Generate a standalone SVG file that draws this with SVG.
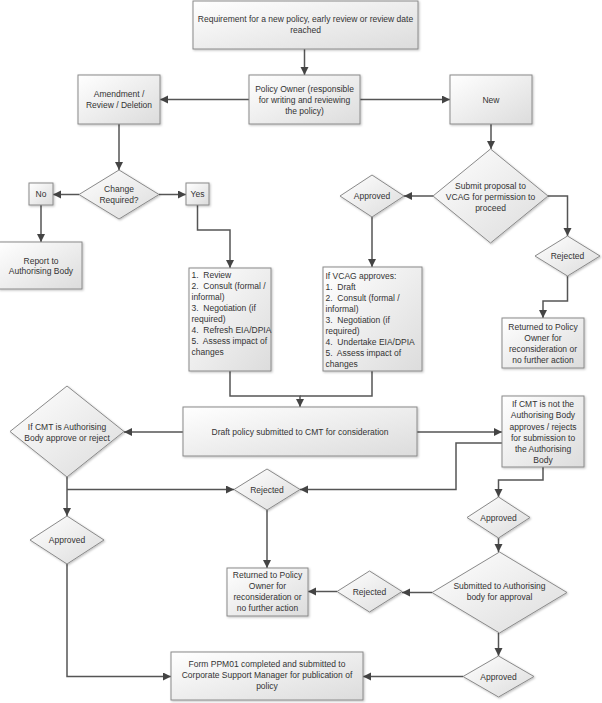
<svg xmlns="http://www.w3.org/2000/svg" width="602" height="703" viewBox="0 0 602 703">
<style>
.s{fill:url(#g);stroke:#8a8a8a;stroke-width:1;filter:url(#sh)}
.t{font-family:"Liberation Sans",Arial,sans-serif;font-size:8.5px;fill:#333;text-anchor:middle}
.l{font-family:"Liberation Sans",Arial,sans-serif;font-size:8.5px;fill:#333;white-space:pre}
.c{fill:none;stroke:#555;stroke-width:1.5}
.a{marker-end:url(#ar)}
</style>
<defs>
<linearGradient id="g" x1="0" y1="0" x2="1" y2="1">
<stop offset="0" stop-color="#ffffff"/>
<stop offset="1" stop-color="#dcdcdc"/>
</linearGradient>
<filter id="sh" x="-10%" y="-10%" width="130%" height="130%">
<feDropShadow dx="1" dy="1" stdDeviation="0.8" flood-color="#000" flood-opacity="0.25"/>
</filter>
<marker id="ar" markerUnits="userSpaceOnUse" markerWidth="9" markerHeight="9" refX="8" refY="4" orient="auto">
<path d="M0,0 L8,4 L0,8 z" fill="#444"/>
</marker>
</defs>

<g id="connectors">
<path class="c a" d="M304.5,49 V75"/>
<path class="c a" d="M249,99.5 H160"/>
<path class="c a" d="M360,99.5 H450"/>
<path class="c a" d="M119,124 V170"/>
<path class="c a" d="M79,194.5 H53"/>
<path class="c a" d="M159,194.5 H186"/>
<path class="c a" d="M41,205 V242"/>
<path class="c a" d="M197.5,205 V230 H230 V268"/>
<path class="c a" d="M491,124 V149"/>
<path class="c a" d="M433,196 H404"/>
<path class="c a" d="M548,196 H567.5 V236"/>
<path class="c a" d="M567.5,276 V301 H543 V318"/>
<path class="c a" d="M372,217 V267"/>
<path class="c a" d="M230,371 V396 H300 V407"/>
<path class="c" d="M372,371 V396 H300"/>
<path class="c a" d="M183,432 H124"/>
<path class="c a" d="M417,432 H502"/>
<path class="c a" d="M502,443 H456 V489.5 H300"/>
<path class="c a" d="M67,477 V516"/>
<path class="c a" d="M67,489.5 H234"/>
<path class="c a" d="M543,467 V480 H498.5 V497"/>
<path class="c a" d="M498.5,538 V552"/>
<path class="c a" d="M432,592.5 H402"/>
<path class="c a" d="M337,591.5 H308"/>
<path class="c a" d="M267,510 V568"/>
<path class="c a" d="M498.5,633 V656"/>
<path class="c a" d="M463,676.5 H363"/>
<path class="c a" d="M67,564 V676.5 H171"/>
</g>

<g id="requirement">
<rect class="s" x="193" y="1" width="225" height="48"/>
<text class="t" x="305.5" y="22">Requirement for a new policy, early review or review date</text>
<text class="t" x="305.5" y="33">reached</text>
</g>
<g id="policy-owner">
<rect class="s" x="249" y="75" width="111" height="49"/>
<text class="t" x="304.5" y="92">Policy Owner (responsible</text>
<text class="t" x="304.5" y="103">for writing and reviewing</text>
<text class="t" x="304.5" y="114">the policy)</text>
</g>
<g id="amendment">
<rect class="s" x="78" y="75" width="82" height="49"/>
<text class="t" x="119" y="97">Amendment /</text>
<text class="t" x="119" y="108">Review / Deletion</text>
</g>
<g id="new">
<rect class="s" x="450" y="75" width="82" height="49"/>
<text class="t" x="491" y="102.5">New</text>
</g>
<g id="change-required">
<polygon class="s" points="119,170 159,194.5 119,219 79,194.5"/>
<text class="t" x="119" y="192">Change</text>
<text class="t" x="119" y="203">Required?</text>
</g>
<g id="no">
<rect class="s" x="29" y="183" width="24" height="22"/>
<text class="t" x="41" y="197">No</text>
</g>
<g id="yes">
<rect class="s" x="186" y="183" width="23" height="22"/>
<text class="t" x="197.5" y="197">Yes</text>
</g>
<g id="report">
<rect class="s" x="-1" y="242" width="83" height="47"/>
<text class="t" x="41" y="264">Report to</text>
<text class="t" x="41" y="274">Authorising Body</text>
</g>
<g id="review-steps">
<rect class="s" x="189" y="268" width="82" height="103"/>
<text class="l" x="191.5" y="278">1.  Review</text>
<text class="l" x="191.5" y="289">2.  Consult (formal /</text>
<text class="l" x="191.5" y="300">informal)</text>
<text class="l" x="191.5" y="311">3.  Negotiation (if</text>
<text class="l" x="191.5" y="322">required)</text>
<text class="l" x="191.5" y="333">4.  Refresh EIA/DPIA</text>
<text class="l" x="191.5" y="344">5.  Assess impact of</text>
<text class="l" x="191.5" y="355">changes</text>
</g>
<g id="submit-vcag">
<polygon class="s" points="490.5,149 548,196 490.5,243 433,196"/>
<text class="t" x="490.5" y="189">Submit proposal to</text>
<text class="t" x="490.5" y="200">VCAG for permission to</text>
<text class="t" x="490.5" y="211">proceed</text>
</g>
<g id="approved-vcag">
<polygon class="s" points="372,175 404,196 372,217 340,196"/>
<text class="t" x="372" y="199">Approved</text>
</g>
<g id="rejected-vcag">
<polygon class="s" points="567.5,236 600,256 567.5,276 535,256"/>
<text class="t" x="567.5" y="259">Rejected</text>
</g>
<g id="vcag-steps">
<rect class="s" x="323" y="267" width="99" height="104"/>
<text class="l" x="325.5" y="279">If VCAG approves:</text>
<text class="l" x="325.5" y="290">1.  Draft</text>
<text class="l" x="325.5" y="301">2.  Consult (formal /</text>
<text class="l" x="325.5" y="312">informal)</text>
<text class="l" x="325.5" y="323">3.  Negotiation (if</text>
<text class="l" x="325.5" y="334">required)</text>
<text class="l" x="325.5" y="345">4.  Undertake EIA/DPIA</text>
<text class="l" x="325.5" y="356">5.  Assess impact of</text>
<text class="l" x="325.5" y="367">changes</text>
</g>
<g id="returned-vcag">
<rect class="s" x="502" y="318" width="82" height="50"/>
<text class="t" x="543" y="330">Returned to Policy</text>
<text class="t" x="543" y="341">Owner for</text>
<text class="t" x="543" y="352">reconsideration or</text>
<text class="t" x="543" y="363">no further action</text>
</g>
<g id="draft-cmt">
<rect class="s" x="183" y="407" width="234" height="49"/>
<text class="t" x="300" y="435">Draft policy submitted to CMT for consideration</text>
</g>
<g id="cmt-authorising">
<polygon class="s" points="67,386 124,431.5 67,477 10,431.5"/>
<text class="t" x="67" y="430">If CMT is Authorising</text>
<text class="t" x="67" y="441">Body approve or reject</text>
</g>
<g id="cmt-not-authorising">
<rect class="s" x="502" y="396" width="82" height="71"/>
<text class="t" x="543" y="407">If CMT is not the</text>
<text class="t" x="543" y="418">Authorising Body</text>
<text class="t" x="543" y="430">approves / rejects</text>
<text class="t" x="543" y="441">for submission to</text>
<text class="t" x="543" y="452">the Authorising</text>
<text class="t" x="543" y="463">Body</text>
</g>
<g id="rejected-cmt">
<polygon class="s" points="267,469 300,489.5 267,510 234,489.5"/>
<text class="t" x="267" y="492.5">Rejected</text>
</g>
<g id="approved-cmt">
<polygon class="s" points="67,516 104,540 67,564 30,540"/>
<text class="t" x="67" y="543">Approved</text>
</g>
<g id="approved-cmt-not">
<polygon class="s" points="498.5,497 530,517.5 498.5,538 467,517.5"/>
<text class="t" x="498.5" y="520.5">Approved</text>
</g>
<g id="returned-cmt">
<rect class="s" x="227" y="568" width="81" height="48"/>
<text class="t" x="267.5" y="578">Returned to Policy</text>
<text class="t" x="267.5" y="589">Owner for</text>
<text class="t" x="267.5" y="600">reconsideration or</text>
<text class="t" x="267.5" y="611">no further action</text>
</g>
<g id="submitted-authorising">
<polygon class="s" points="499.5,552 567,592.5 499.5,633 432,592.5"/>
<text class="t" x="499.5" y="589">Submitted to Authorising</text>
<text class="t" x="499.5" y="600">body for approval</text>
</g>
<g id="rejected-authorising">
<polygon class="s" points="369.5,571 402,591.5 369.5,612 337,591.5"/>
<text class="t" x="369.5" y="594.5">Rejected</text>
</g>
<g id="approved-authorising">
<polygon class="s" points="498.5,656 534,676.5 498.5,697 463,676.5"/>
<text class="t" x="498.5" y="679.5">Approved</text>
</g>
<g id="form-ppm01">
<rect class="s" x="171" y="652" width="192" height="48"/>
<text class="t" x="267" y="667">Form PPM01 completed and submitted to</text>
<text class="t" x="267" y="678">Corporate Support Manager for publication of</text>
<text class="t" x="267" y="689">policy</text>
</g>
</svg>
